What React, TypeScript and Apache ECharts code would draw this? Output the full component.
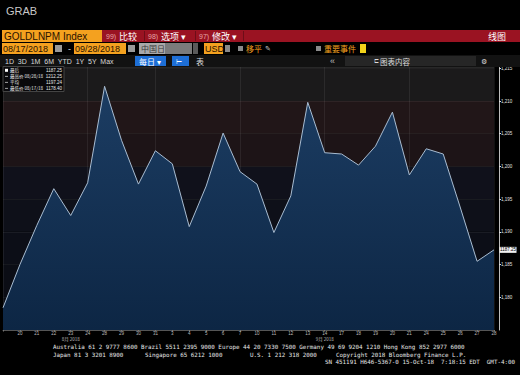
import React, { useEffect, useRef } from "react";
import * as echarts from "echarts";

const dates = [
  "2018-08-17", "2018-08-20", "2018-08-21", "2018-08-22", "2018-08-23", "2018-08-24",
  "2018-08-28", "2018-08-29", "2018-08-30", "2018-08-31", "2018-09-03", "2018-09-04",
  "2018-09-05", "2018-09-06", "2018-09-07", "2018-09-10", "2018-09-11", "2018-09-12",
  "2018-09-13", "2018-09-14", "2018-09-17", "2018-09-18", "2018-09-19", "2018-09-20",
  "2018-09-21", "2018-09-24", "2018-09-25", "2018-09-26", "2018-09-27", "2018-09-28",
];
const prices = [
  1178.4, 1185.0, 1191.0, 1196.6, 1192.5, 1197.5,
  1212.25, 1204.0, 1197.3, 1202.4, 1200.4, 1190.8,
  1197.0, 1205.1, 1199.2, 1197.3, 1189.9, 1195.5,
  1209.8, 1202.1, 1201.9, 1200.2, 1203.1, 1208.3,
  1198.7, 1202.7, 1201.9, 1193.8, 1185.5, 1187.25,
];
const monthLabels: Record<string, string> = { "2018-08-23": "8月 2018", "2018-09-14": "9月 2018" };
const legendLabels = ["最后", "最高价 08/28/18", "平均", "最低价 08/17/18"];
const legendValues = ["1187.25", "1212.25", "1197.24", "1178.40"];
const periodButtons = "1D  3D  1M  6M  YTD  1Y  5Y  Max";
const footer1 = "Australia 61 2 9777 8600 Brazil 5511 2395 9000 Europe 44 20 7330 7500 Germany 49 69 9204 1210 Hong Kong 852 2977 6000";
const footer2 = ["Japan 81 3 3201 8900", "Singapore 65 6212 1000", "U.S. 1 212 318 2000", "Copyright 2018 Bloomberg Finance L.P."];
const footer3 = "SN 451191 H646-5367-0 15-Oct-18  7:18:15 EDT  GMT-4:00";

const CJK = "'Noto Sans CJK SC', sans-serif";
const SANS = "Arial, 'Liberation Sans', sans-serif";
const MONO = "'DejaVu Sans Mono', monospace";

function t(x: number, y: number, text: string, fill: string, size: number, family = SANS, align = "left", weight = "normal"): any {
  return {
    type: "text",
    x, y,
    silent: true,
    z: 100,
    style: { text, fill, fontSize: size, fontFamily: family, fontWeight: weight, textAlign: align, textVerticalAlign: "middle" },
  };
}
function r(x: number, y: number, w: number, h: number, fill: string, stroke?: string): any {
  return { type: "rect", z: 99, shape: { x, y, width: w, height: h }, silent: true, style: { fill, stroke: stroke || undefined, lineWidth: 1 } };
}

export default function App() {
  const ref = useRef<HTMLDivElement>(null);
  useEffect(() => {
    if (!ref.current) return;
    const chart = echarts.init(ref.current, null, { renderer: "svg" });
    const orange = "#f4a11f";
    const lastIdx = prices.length - 1;

    const graphic: any[] = [
      // title
      t(6, 11, "GRAB", "#c8c8c8", 11, "'Liberation Sans Narrow', 'Liberation Sans', sans-serif"),
      // row 1
      r(2, 30, 100, 12, orange),
      t(4, 36.5, "GOLDLNPM Index", "#2a1200", 10, SANS),
      r(102, 30, 418, 12, "#9a1322"),
      t(106, 36.5, "99)", "#e6a6a6", 7, SANS),
      t(119, 36.5, "比较", "#ffffff", 9, CJK),
      r(144, 31, 1, 10, "#6d0d18"),
      t(148, 36.5, "98)", "#e6a6a6", 7, SANS),
      t(161, 36.5, "选项 ▾", "#ffffff", 9, CJK),
      r(195, 31, 1, 10, "#6d0d18"),
      t(199, 36.5, "97)", "#e6a6a6", 7, SANS),
      t(212, 36.5, "修改 ▾", "#ffffff", 9, CJK),
      r(243, 31, 1, 10, "#6d0d18"),
      t(488, 36.5, "线图", "#ffffff", 9, CJK),
      // row 2
      r(2, 43, 51, 11, orange),
      t(3, 48.5, "08/17/2018", "#2a1200", 9, SANS),
      r(55, 45, 7, 7, "#9a9a9a"),
      t(68, 48.5, "-", "#dddddd", 9, SANS),
      r(74, 43, 52, 11, orange),
      t(75, 48.5, "09/28/2018", "#2a1200", 9, SANS),
      r(128, 45, 7, 7, "#9a9a9a"),
      r(139, 43, 26, 11, "#a9a9a9"),
      r(165, 43, 27, 11, "#7b7b7b"),
      t(141, 48.5, "中国日", "#3a3a3a", 8, CJK),
      r(193, 43, 5, 11, "#5a5a5a"),
      r(204, 43, 19, 11, orange),
      t(205, 48.5, "USD", "#2a1200", 9, SANS),
      r(225, 45, 5, 7, "#8a8a8a"),
      r(238, 46, 5, 5, "#8a8a8a"),
      t(246, 48.5, "移平", orange, 8, CJK),
      t(265, 48.5, "✎", "#cccccc", 7, SANS),
      r(316, 46, 5, 5, "#8a8a8a"),
      t(324, 48.5, "重要事件", orange, 8, CJK),
      r(360, 44, 6, 9, "#f2d21a"),
      // row 3
      r(0, 55, 520, 12, "#121212"),
      t(5, 61, periodButtons, "#d8d8d8", 7, SANS),
      r(135, 56, 31, 10, "#1e6fd6"),
      t(139, 61, "每日 ▾", "#ffffff", 8, CJK),
      r(172, 56, 17, 10, "#1e6fd6"),
      t(176, 61, "⊢", "#ffffff", 7, SANS),
      t(196, 61, "表", "#dddddd", 8, CJK),
      t(330, 61, "«", "#bbbbbb", 9, SANS),
      r(345, 56, 131, 10, "#262626"),
      t(374, 61, "⊏", "#dddddd", 6, SANS),
      t(380, 61, "图表内容", "#dddddd", 7.5, CJK),
      t(481, 61, "⚙", "#dddddd", 7, SANS),
      // legend box
      r(3, 66.5, 61, 25, "rgba(8,8,10,0.9)", "#444444"),
      r(5, 68.8, 3, 3, "#ffffff"),
      // footer
      t(53, 347, footer1, "#e6e6e6", 5.85, MONO),
      t(53, 354.5, footer2[0], "#e6e6e6", 5.85, MONO),
      t(145, 354.5, footer2[1], "#e6e6e6", 5.85, MONO),
      t(250, 354.5, footer2[2], "#e6e6e6", 5.85, MONO),
      t(336, 354.5, footer2[3], "#e6e6e6", 5.85, MONO),
      t(325, 362, footer3, "#e6e6e6", 5.85, MONO),
    ];
    legendLabels.forEach((lab, i) => {
      const y = 70.3 + i * 6;
      if (i > 0) graphic.push(r(5, y - 0.4, 3, 0.8, "#cccccc"));
      graphic.push(t(10, y, lab, "#e8e8e8", 4.5, CJK));
      graphic.push(t(62, y, legendValues[i], "#e8e8e8", 4.5, SANS, "right"));
    });

    const option: any = {
      animation: false,
      backgroundColor: "#000000",
      grid: { left: 2, right: 26, top: 67, bottom: 45, containLabel: false },
      xAxis: {
        type: "category",
        data: dates,
        boundaryGap: false,
        axisLine: { show: true, lineStyle: { color: "#555555", width: 1 } },
        axisTick: { show: true, length: 1.5, interval: 0, lineStyle: { color: "#777777" } },
        axisLabel: {
          interval: 0,
          color: "#bbbbbb",
          fontSize: 4.5,
          lineHeight: 5,
          margin: 1,
          fontFamily: SANS,
          formatter: (v: string, i: number) => {
            if (i === 0) return "";
            const d = String(parseInt(v.slice(8), 10));
            return monthLabels[v] ? d + "\n{m|" + monthLabels[v] + "}" : d;
          },
          rich: { m: { fontSize: 4.5, color: "#bbbbbb", lineHeight: 5, fontFamily: CJK } },
        },
        splitLine: {
          show: true,
          interval: (i: number) => new Date(dates[i] + "T12:00:00Z").getUTCDay() === 5,
          lineStyle: { color: "rgba(255,255,255,0.07)", width: 1 },
        },
      },
      yAxis: {
        type: "value",
        position: "right",
        offset: 5,
        min: 1175,
        max: 1215.2,
        interval: 5,
        axisLine: { show: true, lineStyle: { color: "#bdbdbd", width: 1 } },
        axisTick: { show: true, length: 2, lineStyle: { color: "#dddddd" } },
        axisLabel: { color: "#e0e0e0", fontSize: 4.5, margin: 2, showMinLabel: false, fontFamily: SANS },
        splitLine: { show: true, lineStyle: { color: "rgba(255,255,255,0.06)", width: 1 } },
        splitArea: {
          show: true,
          areaStyle: {
            color: ["#0a0c13", "#0b0d15", "#0c0e17", "#0e1019", "#10111b", "#1d1417", "#211618", "#1b1a1b", "#1b1b1b"],
          },
        },
      },
      series: [
        {
          type: "line",
          data: prices,
          symbol: "none",
          lineStyle: { color: "#a9bdd2", width: 1 },
          areaStyle: {
            origin: "start",
            color: new echarts.graphic.LinearGradient(0, 0, 0, 1, [
              { offset: 0, color: "#1c3d63" },
              { offset: 1, color: "#0d2644" },
            ]),
            opacity: 1,
          },
          markPoint: {
            symbol: "rect",
            symbolSize: [17, 6],
            symbolOffset: [14, 0],
            itemStyle: { color: "#f2f2f2" },
            label: { show: true, position: "inside", color: "#000000", fontSize: 4.5, fontFamily: SANS, formatter: (p: any) => p.value.toFixed(2) },
            data: [{ coord: [lastIdx, prices[lastIdx]], value: prices[lastIdx] }],
          },
        },
      ],
      graphic,
    };
    chart.setOption(option);
    return () => chart.dispose();
  }, []);
  return (
    <div style={{ position: "fixed", left: 0, top: 0, width: 520, height: 375, background: "#000" }}>
      <div ref={ref} style={{ width: 520, height: 375 }} />
    </div>
  );
}
